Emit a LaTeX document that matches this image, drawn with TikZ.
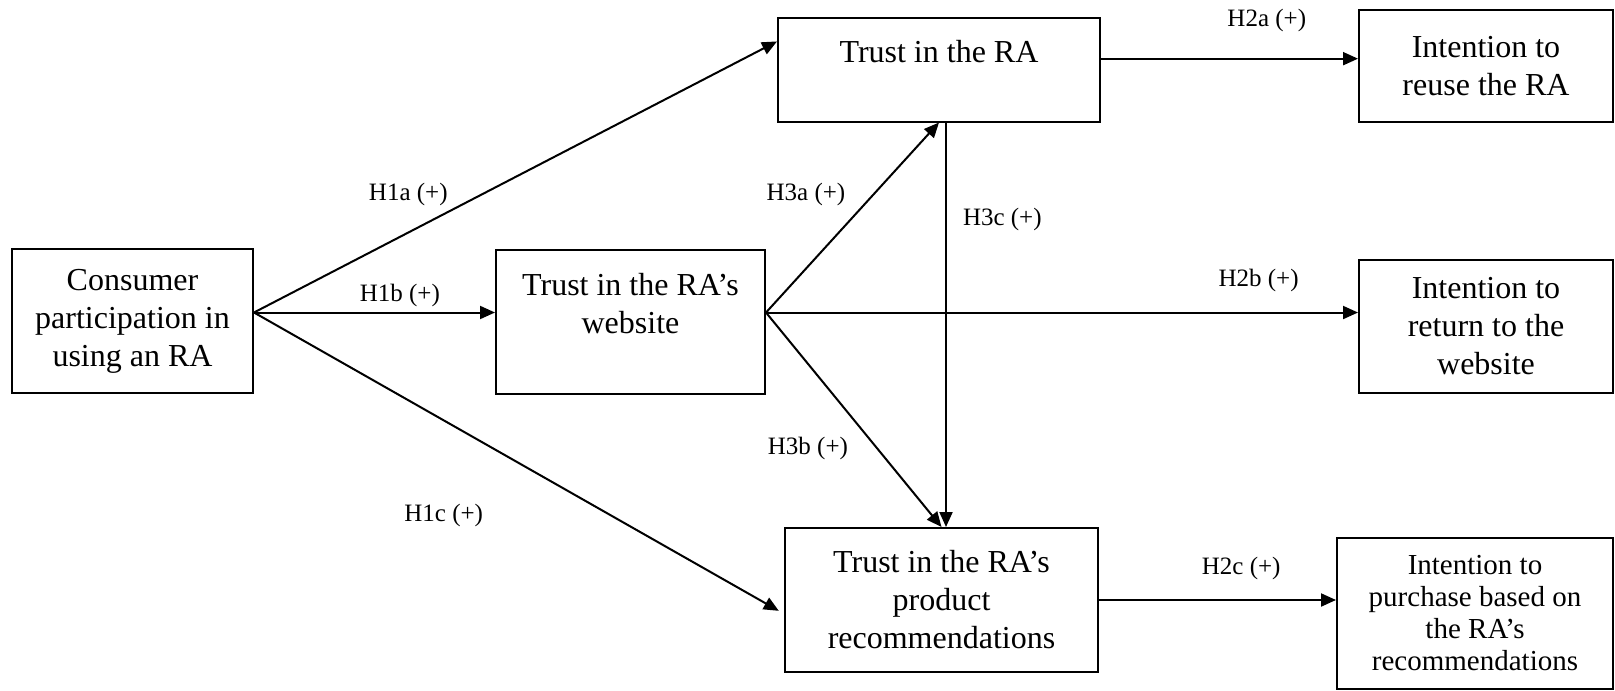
\documentclass[tikz,border=0pt]{standalone}
\usepackage{fontspec}
\setmainfont{Liberation Serif}
\usetikzlibrary{arrows.meta}
\tikzset{
  box/.style={
    % The shape:
    shape=rectangle,
    % The border:
    line width=1pt,draw=black,
    % The text:
    align=center,inner sep=0pt,
    font=\fontsize{16}{19}\selectfont}}
\tikzset{
	hyp/.style={
		% plain label on an arrow
		inner sep=0pt,
		font=\fontsize{12.5}{15}\selectfont}}

\begin{document}
\begin{tikzpicture}[x=0.5pt,y=-0.5pt,>={Triangle[length=7.5pt,width=6.5pt]},line width=1pt]
	\useasboundingbox (0,0) rectangle (1615,690);
	% Left and middle column
	\node[box,minimum width=120.5pt,minimum height=72pt] (p) at (132.5,321) {Consumer\\participation in\\using an RA};
	\node[box,minimum width=134.5pt,minimum height=72pt] (w) at (630.5,322) {Trust in the RA’s\\website\\\mbox{}};
	\node[box,minimum width=161pt,minimum height=51.5pt] (ra) at (939,70) {Trust in the RA\\\mbox{}};
	\node[box,minimum width=156.5pt,minimum height=72pt] (rec) at (941.5,600) {Trust in the RA’s\\product\\recommendations};
	% Right column
	\node[box,minimum width=127pt,minimum height=55.75pt] (reuse) at (1486,65.75) {Intention to\\reuse the RA};
	\node[box,minimum width=127pt,minimum height=66.5pt] (ret) at (1486,326.5) {Intention to\\return to the\\website};
	\node[box,minimum width=138pt,minimum height=75.5pt,font=\fontsize{14.5}{16}\selectfont] (buy) at (1475,613.5) {Intention to\\purchase based on\\the RA’s\\recommendations};
	% Lines out of p
	\draw[->] (p.4) -- (ra.170) node[hyp,pos=0.295,above=13pt] {H1a (+)};
	\draw[->] (p.4) -- (p.4 -| w.west) node[hyp,pos=0.605,above=2.3pt] {H1b (+)};
	\draw[->,shorten >=3pt] (p.4) -- (rec.185) node[hyp,pos=0.358,below=41.5pt] {H1c (+)};
	% Lines out of w
	\draw[->] (w.4) -- (ra.south) node[hyp,pos=0.62,left=13.5pt] {H3a (+)};
	\draw[->] (w.4) -- (rec.north) node[hyp,pos=0.632,left=14pt] {H3b (+)};
	\draw[->] (w.4) -- (w.4 -| ret.west) node[hyp,pos=0.832,above=10pt] {H2b (+)};
	% Lines out of ra
	\draw[->] ([xshift=3.5pt]ra.south) -- ([xshift=3.5pt]ra.south |- rec.north) node[hyp,pos=0.24,right=8pt] {H3c (+)};
	\draw[->] (ra.4) -- (ra.4 -| reuse.west) node[hyp,pos=0.645,above=13pt] {H2a (+)};
	% Line out of rec
	\draw[->] (rec.east) -- (rec.east -| buy.west) node[hyp,pos=0.6,above=9.5pt] {H2c (+)};
\end{tikzpicture}
\end{document}
